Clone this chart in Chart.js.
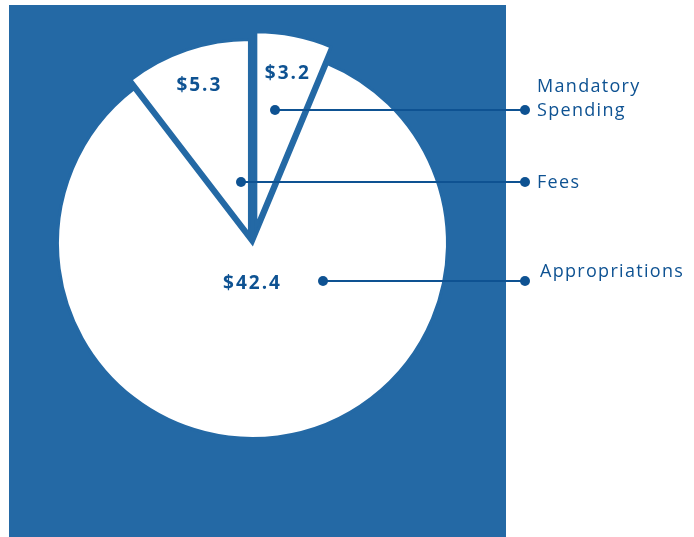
<!DOCTYPE html>
<html><head><meta charset="utf-8">
<script src="https://cdn.jsdelivr.net/npm/chart.js@4.4.1/dist/chart.umd.min.js"></script>
<style>
html,body{margin:0;padding:0;background:#fff;}
#wrap{position:relative;width:694px;height:537px;overflow:hidden;}
#bg{position:absolute;left:9px;top:5px;width:497px;height:532px;background:#2469A5;}
canvas{position:absolute;left:0;top:0;}
</style></head><body>
<div id="wrap"><div id="bg"></div><canvas id="c" width="694" height="537"></canvas></div>
<script>
// ---- data ----
const categories = ['Mandatory Spending', 'Appropriations', 'Fees'];
const values = [3.2, 42.4, 5.3];
const valueLabels = ['$3.2', '$42.4', '$5.3'];
const legendLines = [['Mandatory', 'Spending'], ['Appropriations'], ['Fees']];

// ---- styling / layout ----
const BG = '#2469A5';
const INK = '#0E5292';
const explode = [17, 0, 9.5];
const labelFrac = [0.81, 0.2, 0.815];
const labelNudge = [[0, 0], [-6, 0], [0, 0]];
const annot = {
  inner: [[275, 110], [323, 281], [241, 182]],
  outerX: 525,
  textX: [537, 540, 537],
  textY: [[91.5, 116], [276.5], [188]]
};

const pieDecor = {
  id: 'pieDecor',
  afterDatasetsUpdate(chart) {
    const meta = chart.getDatasetMeta(0);
    meta.data.forEach((arc, i) => {
      const mid = (arc.startAngle + arc.endAngle) / 2;
      arc.x += Math.cos(mid) * explode[i];
      arc.y += Math.sin(mid) * explode[i];
    });
  },
  afterDatasetsDraw(chart) {
    const ctx = chart.ctx;
    const meta = chart.getDatasetMeta(0);
    ctx.save();
    ctx.strokeStyle = INK;
    ctx.fillStyle = INK;
    ctx.lineWidth = 2;
    annot.inner.forEach((p) => {
      ctx.beginPath();
      ctx.moveTo(p[0], p[1]);
      ctx.lineTo(annot.outerX, p[1]);
      ctx.stroke();
      [p[0], annot.outerX].forEach((x) => {
        ctx.beginPath();
        ctx.arc(x, p[1], 5, 0, Math.PI * 2);
        ctx.fill();
      });
    });
    // value labels
    ctx.font = 'bold 19px "Open Sans"';
    ctx.textAlign = 'center';
    ctx.textBaseline = 'alphabetic';
    ctx.letterSpacing = '2px';
    meta.data.forEach((arc, i) => {
      const mid = (arc.startAngle + arc.endAngle) / 2;
      const r = arc.outerRadius * labelFrac[i];
      const x = arc.x + Math.cos(mid) * r + labelNudge[i][0];
      const y = arc.y + Math.sin(mid) * r + labelNudge[i][1];
      ctx.fillText(valueLabels[i], x + 1, y + 6.8);
    });
    // legend text
    ctx.font = '18px "Open Sans"';
    ctx.textAlign = 'left';
    ctx.letterSpacing = '1.3px';
    legendLines.forEach((lines, i) => {
      lines.forEach((t, j) => ctx.fillText(t, annot.textX[i], annot.textY[i][j]));
    });
    ctx.restore();
  }
};

new Chart(document.getElementById('c'), {
  type: 'pie',
  data: {
    labels: categories,
    datasets: [{
      data: values,
      backgroundColor: '#ffffff',
      borderColor: BG,
      borderWidth: 3,
      hoverBorderWidth: 3,
      borderJoinStyle: 'miter',
      offset: 0,
      hoverOffset: 0,
      radius: 195
    }]
  },
  options: {
    responsive: false,
    animation: false,
    events: [],
    radius: 195,
    layout: { padding: { left: 0, top: 0, right: 189, bottom: 50 } },
    plugins: { legend: { display: false }, tooltip: { enabled: false } }
  },
  plugins: [pieDecor]
});
</script>
</body></html>
